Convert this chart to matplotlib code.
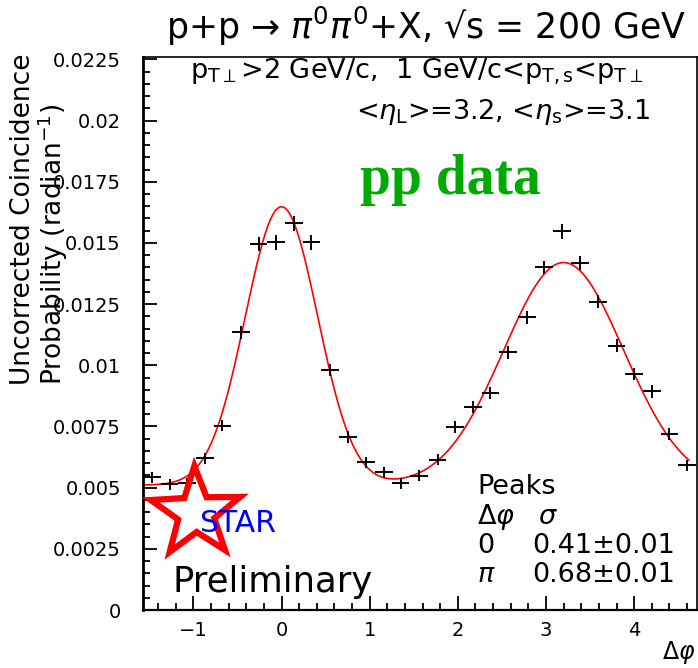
import numpy as np
import matplotlib
matplotlib.use("Agg")
from matplotlib import pyplot as plt
from matplotlib.patches import Polygon

# bin centres (delta phi, rad) and coincidence probabilities
dphi = [-1.47, -1.27, -1.07, -0.87, -0.67, -0.46, -0.26, -0.06, 0.14, 0.34,
        0.55, 0.75, 0.96, 1.16, 1.35, 1.56, 1.77, 1.97, 2.17, 2.37,
        2.57, 2.78, 2.98, 3.18, 3.39, 3.59, 3.80, 4.00, 4.20, 4.40, 4.60]
prob = [0.00542, 0.00513, 0.00517, 0.00620, 0.00754, 0.01135, 0.01496, 0.01502, 0.01580, 0.01502,
        0.00981, 0.00706, 0.00603, 0.00563, 0.00518, 0.00549, 0.00615, 0.00747, 0.00831, 0.00887,
        0.01053, 0.01196, 0.01400, 0.01547, 0.01418, 0.01260, 0.01080, 0.00965, 0.00893, 0.00720, 0.00592]
prob_err = [0.00022, 0.00022, 0.00022, 0.00023, 0.00024, 0.00027, 0.00030, 0.00030, 0.00030, 0.00030,
            0.00026, 0.00024, 0.00022, 0.00022, 0.00022, 0.00022, 0.00023, 0.00024, 0.00025, 0.00025,
            0.00026, 0.00027, 0.00028, 0.00029, 0.00028, 0.00027, 0.00026, 0.00025, 0.00025, 0.00024, 0.00023]
bin_half = 0.101

# fit: const + near side gaussian + away side gaussian
fit_const = 0.0051
near_amp, near_mu, near_sig = 0.01138, 0.0, 0.41
away_amp, away_mu, away_sig = 0.0091, 3.2, 0.68

xlim = (-np.pi / 2, 3 * np.pi / 2)

fig = plt.figure(figsize=(6.98, 6.68), dpi=100)
ax = fig.add_axes([143 / 698, 58 / 668, 554 / 698, 553 / 668])

x_fit = np.linspace(xlim[0], 4.62, 400)
y_fit = (fit_const
         + near_amp * np.exp(-(x_fit - near_mu) ** 2 / (2 * near_sig ** 2))
         + away_amp * np.exp(-(x_fit - away_mu) ** 2 / (2 * away_sig ** 2)))
ax.plot(x_fit, y_fit, color='red', lw=1.2, zorder=2)

ax.errorbar(dphi, prob, xerr=bin_half, yerr=prob_err, fmt='none',
            ecolor='black', elinewidth=1.4, capsize=0, zorder=3)

ax.set_xlim(*xlim)
ax.set_ylim(0, 0.0226)
ax.set_xticks([-1, 0, 1, 2, 3, 4])
ax.set_xticklabels(['\u22121', '0', '1', '2', '3', '4'])
ax.set_xticks(np.arange(-1.4, 4.7, 0.2), minor=True)
yt = np.arange(0, 0.0226, 0.0025)
ax.set_yticks(yt)
ax.set_yticklabels(['0', '0.0025', '0.005', '0.0075', '0.01', '0.0125',
                    '0.015', '0.0175', '0.02', '0.0225'])
ax.set_yticks(np.arange(0, 0.0226, 0.0005), minor=True)
ax.tick_params(which='both', direction='in', top=False, right=False, labelsize=14, width=1.3)
ax.tick_params(which='major', length=10)
ax.tick_params(which='minor', length=5)
ax.tick_params(axis='y', pad=16)
ax.tick_params(axis='x', pad=8)
for s in ax.spines.values():
    s.set_linewidth(1.2)
ax.spines['left'].set_linewidth(2)
ax.spines['bottom'].set_linewidth(1.6)

# titles
fig.text(426 / 698, 1 - 26 / 668, "p+p \u2192 $\\pi^0\\pi^0$+X, \u221as = 200 GeV",
         ha='center', va='center', fontsize=25)
fig.text(40 / 698, 1 - 385 / 668, "Uncorrected Coincidence\nProbability (radian$^{-1}$)",
         rotation=90, ha='center', va='bottom', ma='left', fontsize=19, linespacing=1.0)
fig.text(1 - 3 / 698, 1 - 652 / 668, r"$\Delta\varphi$", ha='right', va='center', fontsize=17)

fig.text(417 / 698, 1 - 72 / 668,
         r"$\mathrm{p}_{\mathrm{T}\perp}$>2 GeV/c,  1 GeV/c<$\mathrm{p}_{\mathrm{T,s}}$<$\mathrm{p}_{\mathrm{T}\perp}$",
         ha='center', va='center', fontsize=19.5)
fig.text(650 / 698, 1 - 112 / 668, r"<$\eta_\mathrm{L}$>=3.2, <$\eta_\mathrm{s}$>=3.1",
         ha='right', va='center', fontsize=19.5)
fig.text(360 / 698, 1 - 180 / 668, "pp data", ha='left', va='center',
         fontsize=40, fontweight='bold', color='#00aa00', family='Liberation Serif')

# STAR logo
cx, cy = 196, 513
ang = np.deg2rad(90 + 2 + np.arange(10) * 36)
rad = np.where(np.arange(10) % 2 == 0, 47, 19)
px = cx + rad * np.cos(ang)
py = 668 - (cy - rad * np.sin(ang))
star = Polygon(np.column_stack([px / 698, py / 668]), closed=True, fill=False,
               edgecolor='red', lw=4.5, transform=fig.transFigure, joinstyle='miter')
fig.add_artist(star)
fig.text(200 / 698, 1 - 524 / 668, "STAR", color='blue', fontsize=21.5, ha='left', va='center')
fig.text(172 / 698, 1 - 582 / 668, "Preliminary", color='black', fontsize=25.5, ha='left', va='center')

# peaks box
peak_rows = [("Peaks", ""), (r"$\Delta\varphi$", r"$\sigma$"), ("0", "0.41\u00b10.01"), (r"$\pi$", "0.68\u00b10.01")]
for i, (a, b) in enumerate(peak_rows):
    yy = 1 - (487 + i * 29.5) / 668
    fig.text(477 / 698, yy, a, fontsize=19.5, ha='left', va='center')
    if b:
        fig.text((538 if i == 1 else 532) / 698, yy, b, fontsize=19.5, ha='left', va='center')

fig.savefig("out.png", dpi=100)
